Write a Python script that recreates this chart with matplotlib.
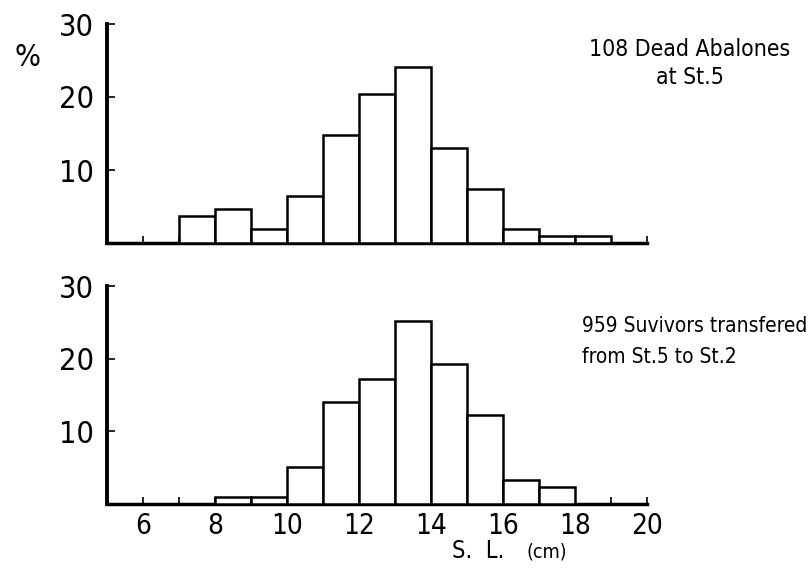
import matplotlib
matplotlib.use("Agg")
import matplotlib.pyplot as plt

# shell length classes (cm), left edge of each 1 cm bin
dead_bins = [7, 8, 9, 10, 11, 12, 13, 14, 15, 16, 17, 18]
dead_pct = [3.7, 4.6, 1.9, 6.5, 14.8, 20.4, 24.1, 13.0, 7.4, 1.9, 0.9, 0.9]

surv_bins = [8, 9, 10, 11, 12, 13, 14, 15, 16, 17]
surv_pct = [1.0, 1.0, 5.1, 14.0, 17.2, 25.2, 19.2, 12.3, 3.3, 2.3]

x_ticklabels = [6, 8, 10, 12, 14, 16, 18, 20]
y_ticks = [10, 20, 30]

plt.rcParams['font.family'] = ['DejaVu Sans']
plt.rcParams['font.stretch'] = 'condensed'

W, H = 811, 568
fig = plt.figure(figsize=(W / 100, H / 100), dpi=100)


def make_ax(top_px, bottom_px):
    ax = fig.add_axes([107 / W, 1 - bottom_px / H, 540 / W, (bottom_px - top_px) / H])
    ax.set_xlim(5, 20)
    ax.set_ylim(0, 30)
    for s in ['top', 'right']:
        ax.spines[s].set_visible(False)
    ax.spines['left'].set_linewidth(2.8)
    ax.spines['bottom'].set_linewidth(2.5)
    ax.set_xticks(range(6, 21))
    ax.set_yticks(y_ticks)
    ax.tick_params(axis='x', direction='in', length=5, width=1.2)
    ax.tick_params(axis='y', direction='in', length=6, width=1.2, labelsize=22, pad=9)
    return ax


def draw_bars(ax, bins, vals):
    ax.bar(bins, vals, width=1.0, align='edge', color='white',
           edgecolor='black', linewidth=1.8, zorder=3)


ax1 = make_ax(24, 243)
draw_bars(ax1, dead_bins, dead_pct)
ax1.set_xticklabels([])
ax1.set_yticklabels([str(v) for v in y_ticks])

ax2 = make_ax(286, 504)
draw_bars(ax2, surv_bins, surv_pct)
ax2.set_xticklabels([str(v) if v in x_ticklabels else '' for v in range(6, 21)], fontsize=20)
ax2.tick_params(axis='x', pad=6)

fig.text(28 / W, 1 - 58 / H, '%', fontsize=22, ha='center', va='center')

fig.text(690 / W, 1 - 50 / H, '108 Dead Abalones', fontsize=16.5, ha='center', va='center')
fig.text(690 / W, 1 - 78 / H, 'at St.5', fontsize=16.5, ha='center', va='center')

fig.text(582 / W, 1 - 326 / H, '959 Suvivors transfered', fontsize=15, ha='left', va='center')
fig.text(582 / W, 1 - 357 / H, 'from St.5 to St.2', fontsize=15, ha='left', va='center')

fig.text(452 / W, 1 - 551 / H, 'S.  L.', fontsize=17, ha='left', va='center')
fig.text(526 / W, 1 - 552 / H, '(cm)', fontsize=14, ha='left', va='center')

fig.savefig('out.png', dpi=100)
